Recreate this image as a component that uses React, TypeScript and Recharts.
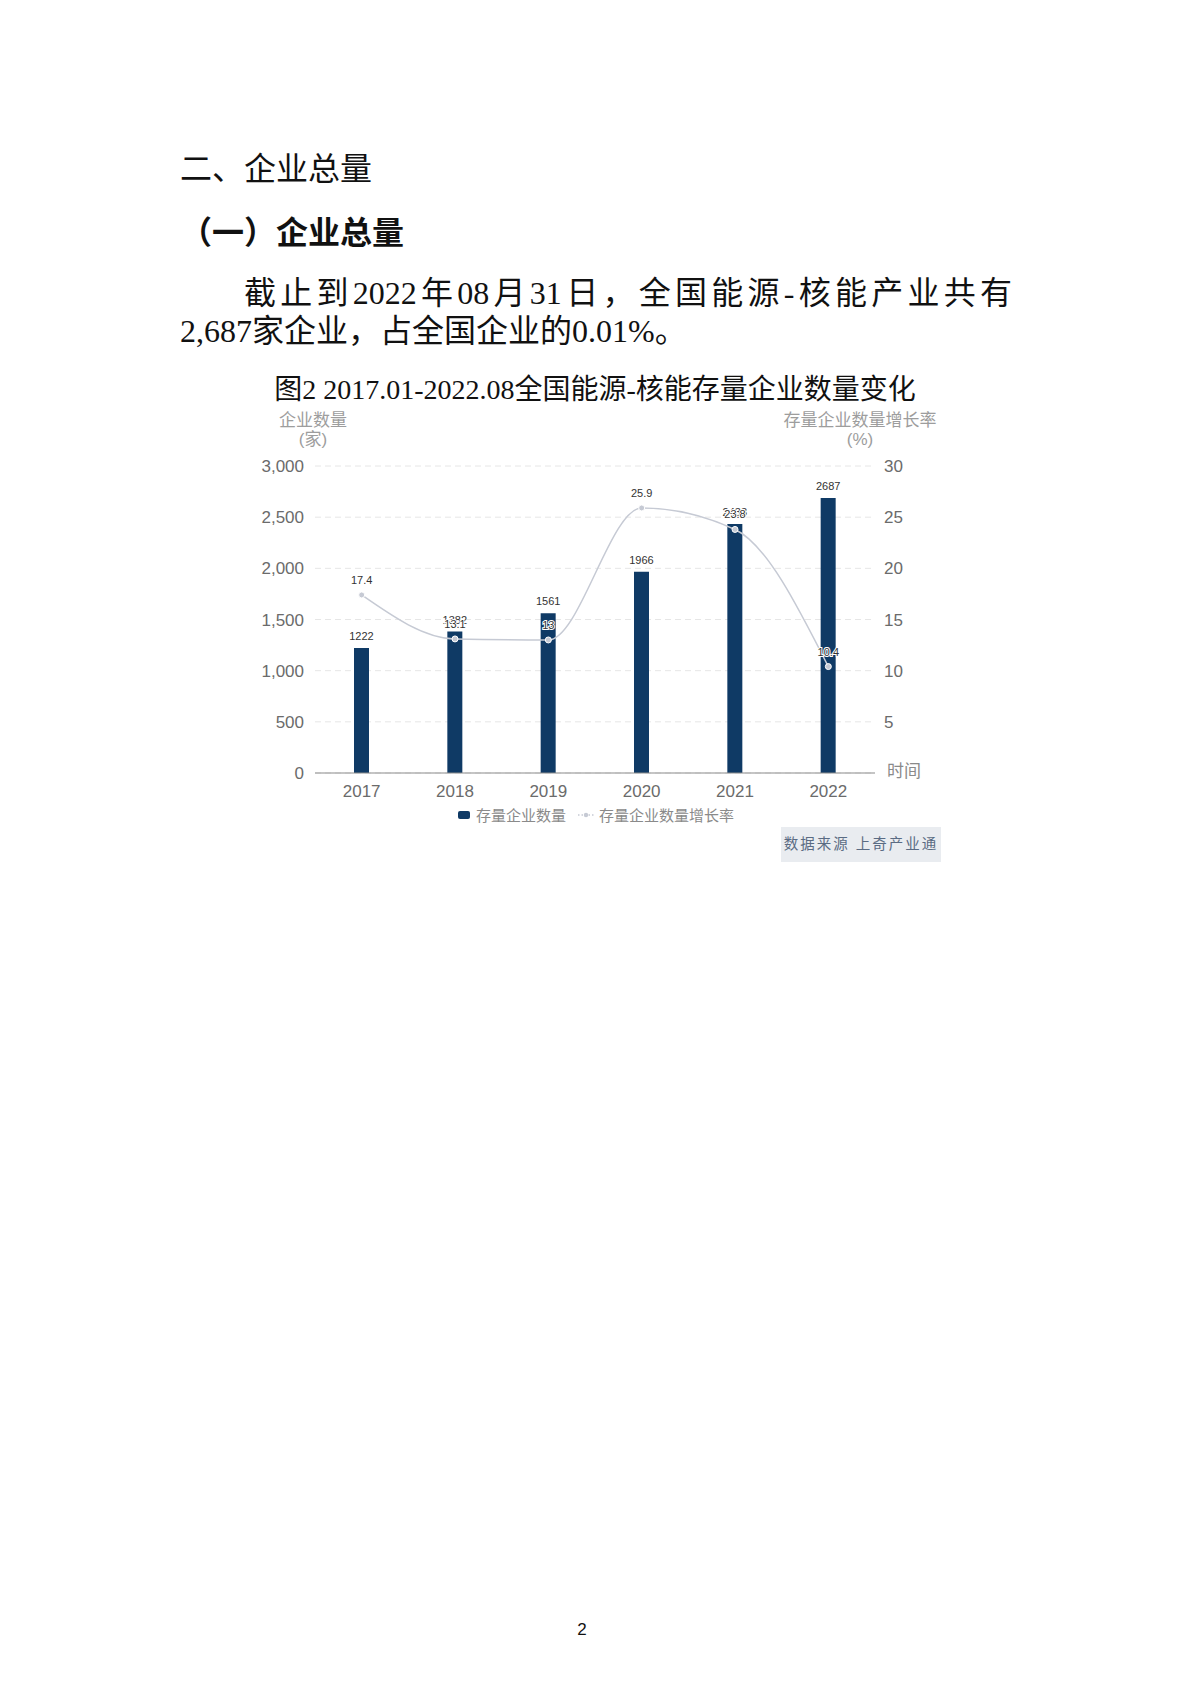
import React from 'react';
import { ComposedChart, Bar, Line, XAxis, YAxis, CartesianGrid, LabelList, Legend } from 'recharts';

const years = ['2017', '2018', '2019', '2020', '2021', '2022'];
const counts = [1222, 1382, 1561, 1966, 2433, 2687];
const rates = [17.4, 13.1, 13, 25.9, 23.8, 10.4];
const leftTicks = [0, 500, 1000, 1500, 2000, 2500, 3000];
const rightTicks = [5, 10, 15, 20, 25, 30];
const barName = '存量企业数量';
const lineName = '存量企业数量增长率';

const data = years.map((y, i) => ({ year: y, count: counts[i], rate: rates[i] }));

const CJK = '"Noto Sans CJK SC"';
const chartFont = `"Liberation Sans", Arial, ${CJK}, sans-serif`;
const docFont = `"Liberation Serif", "Times New Roman", ${CJK}, serif`;

const BAR_COLOR = '#0f3a65';
const LINE_COLOR = '#c6cad4';

const LegendContent = () => (
  <div style={{ display: 'flex', alignItems: 'center', fontSize: 15, color: '#8a8a8a', fontFamily: chartFont, whiteSpace: 'nowrap' }}>
    <svg width={14} height={10} style={{ marginRight: 5 }}>
      <rect x={1} y={1} width={12} height={8} rx={2} fill={BAR_COLOR} />
    </svg>
    <span>{barName}</span>
    <svg width={16} height={10} style={{ marginLeft: 12, marginRight: 5 }}>
      <line x1={0} y1={5} x2={16} y2={5} stroke={LINE_COLOR} strokeWidth={1.5} strokeDasharray="1.5 2" />
      <circle cx={8} cy={5} r={2.2} fill={LINE_COLOR} />
    </svg>
    <span>{lineName}</span>
  </div>
);

export default function App() {
  return (
    <div style={{ position: 'absolute', left: 0, top: 0, width: 1190, height: 1683, background: '#fff' }}>
      <div style={{ position: 'absolute', left: 180, top: 150, fontSize: 32, lineHeight: '32px', fontFamily: `${CJK}, sans-serif`, color: '#111', whiteSpace: 'nowrap' }}>
        二、企业总量
      </div>
      <div style={{ position: 'absolute', left: 180, top: 214, fontSize: 32, lineHeight: '32px', fontFamily: `${CJK}, sans-serif`, fontWeight: 700, color: '#111', whiteSpace: 'nowrap' }}>
        （一）企业总量
      </div>
      <div style={{ position: 'absolute', left: 180, top: 277, width: 832, fontSize: 32, lineHeight: '32px', fontFamily: docFont, color: '#111', textIndent: 64, textAlign: 'justify', textAlignLast: 'justify', textJustify: 'inter-character' as any, whiteSpace: 'nowrap' }}>
        截止到2022年08月31日，全国能源-核能产业共有
      </div>
      <div style={{ position: 'absolute', left: 180, top: 315, fontSize: 32, lineHeight: '32px', fontFamily: docFont, color: '#111', whiteSpace: 'nowrap' }}>
        2,687家企业，占全国企业的0.01%。
      </div>
      <div style={{ position: 'absolute', left: 0, width: 1190, top: 375, fontSize: 28, lineHeight: '30px', fontFamily: docFont, color: '#111', textAlign: 'center', whiteSpace: 'nowrap' }}>
        图2 2017.01-2022.08全国能源-核能存量企业数量变化
      </div>

      <div style={{ position: 'absolute', left: 253, width: 120, top: 411, fontSize: 17, lineHeight: '19px', fontFamily: chartFont, color: '#9d9d9d', textAlign: 'center' }}>
        <div>企业数量</div>
        <div>(家)</div>
      </div>
      <div style={{ position: 'absolute', left: 760, width: 200, top: 411, fontSize: 17, lineHeight: '19px', fontFamily: chartFont, color: '#9d9d9d', textAlign: 'center' }}>
        <div>存量企业数量增长率</div>
        <div>(%)</div>
      </div>
      <div style={{ position: 'absolute', left: 887, top: 762, fontSize: 17, lineHeight: '20px', fontFamily: chartFont, color: '#8a8a8a' }}>
        时间
      </div>

      <div style={{ position: 'absolute', left: 200, top: 400 }}>
        <ComposedChart
          width={760}
          height={440}
          data={data}
          margin={{ top: 66, right: 25, bottom: 37, left: 55 }}
          style={{ fontFamily: chartFont }}
          barCategoryGap={0}
        >
          <CartesianGrid yAxisId="left" vertical={false} stroke="#e6e6e6" strokeDasharray="6 4" />
          <XAxis
            dataKey="year"
            axisLine={{ stroke: '#8c8c8c', strokeWidth: 1.2 }}
            tickLine={false}
            tick={{ fill: '#6b6b6b', fontSize: 17 }}
            tickMargin={6}
            height={30}
          />
          <YAxis
            yAxisId="left"
            domain={[0, 3000]}
            ticks={leftTicks}
            tickFormatter={(v: number) => v.toLocaleString('en-US')}
            axisLine={false}
            tickLine={false}
            tick={{ fill: '#6b6b6b', fontSize: 17 }}
            tickMargin={5}
            width={60}
          />
          <YAxis
            yAxisId="right"
            orientation="right"
            domain={[0, 30]}
            ticks={rightTicks}
            axisLine={false}
            tickLine={false}
            tick={{ fill: '#6b6b6b', fontSize: 17 }}
            tickMargin={3}
            width={60}
          />
          <Legend
            layout="horizontal"
            verticalAlign="middle"
            align="center"
            content={<LegendContent />}
            wrapperStyle={{ position: 'absolute', left: 257, top: 404, width: 'auto', height: 'auto' }}
          />
          <Bar yAxisId="left" dataKey="count" name={barName} fill={BAR_COLOR} barSize={15} isAnimationActive={false}>
            <LabelList dataKey="count" position="top" offset={8} fontSize={11} fill="#333" />
          </Bar>
          <Line
            yAxisId="right"
            type="monotone"
            dataKey="rate"
            name={lineName}
            stroke={LINE_COLOR}
            strokeWidth={1.5}
            dot={{ r: 3, fill: LINE_COLOR, stroke: '#fff', strokeWidth: 1 }}
            activeDot={false}
            isAnimationActive={false}
          >
            <LabelList
              dataKey="rate"
              position="top"
              offset={11}
              fontSize={11}
              fill="#333"
              stroke="#fff"
              strokeWidth={2}
              style={{ paintOrder: 'stroke' }}
            />
          </Line>
        </ComposedChart>
      </div>

      <div style={{ position: 'absolute', left: 781, top: 827, width: 160, height: 35, background: '#e9ecf0', color: '#5a6b83', fontSize: 14.5, lineHeight: '35px', letterSpacing: 2, textAlign: 'center', fontFamily: chartFont, whiteSpace: 'nowrap' }}>
        数据来源 上奇产业通
      </div>

      <div style={{ position: 'absolute', left: 572, width: 20, top: 1620, fontSize: 17, lineHeight: '20px', textAlign: 'center', fontFamily: `"Liberation Sans", Arial, sans-serif`, color: '#111' }}>
        2
      </div>
    </div>
  );
}
